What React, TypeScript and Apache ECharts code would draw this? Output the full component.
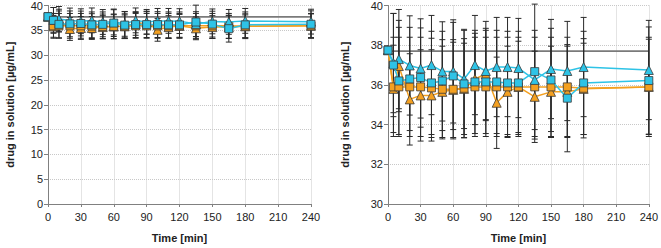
import React, { useEffect, useRef } from "react";
import * as echarts from "echarts";

const timePoints = [0, 5, 10, 20, 30, 40, 50, 60, 70, 80, 90, 100, 110, 120, 135, 150, 165, 180, 240];
const blueSquare = [37.75, 37.0, 36.2, 36.3, 36.37, 36.1, 36.2, 36.45, 36.05, 36.15, 36.15, 36.15, 36.1, 36.1, 36.67, 36.25, 35.33, 36.1, 36.22];
const blueTriangle = [37.75, 37.1, 37.3, 36.98, 36.83, 37.0, 36.68, 36.68, 36.3, 37.0, 36.7, 36.9, 36.9, 36.85, 36.25, 36.8, 36.7, 36.9, 36.75];
const orangeSquare = [37.75, 35.9, 35.9, 35.9, 35.9, 35.85, 35.78, 35.78, 35.83, 35.9, 35.9, 35.9, 35.9, 35.9, 35.9, 35.9, 35.9, 35.83, 35.9];
const orangeTriangle = [37.75, 35.8, 36.95, 35.27, 35.47, 35.47, 35.65, 35.75, 35.8, 36.3, 36.55, 35.1, 35.65, 35.9, 35.4, 35.65, 35.65, 35.8, 35.9];
const blueSquareSD = [0, 2.6, 2.7, 2.6, 2.5, 2.6, 2.5, 2.7, 2.7, 2.6, 2.6, 2.6, 2.6, 2.6, 3.4, 2.6, 2.7, 2.6, 2.7];
const blueTriangleSD = [0, 2.5, 2.5, 2.5, 2.5, 2.5, 2.5, 2.6, 2.5, 2.5, 2.5, 2.5, 2.5, 2.5, 2.5, 2.5, 2.5, 2.5, 2.5];
const orangeSquareSD = [0, 2.5, 2.5, 2.5, 2.5, 2.5, 2.5, 2.5, 2.5, 2.5, 2.5, 2.5, 2.5, 2.5, 2.5, 2.5, 2.5, 2.5, 2.5];
const orangeTriangleSD = [0, 2.2, 2.3, 2.3, 2.3, 2.3, 2.3, 2.4, 2.3, 2.3, 2.3, 2.3, 2.3, 2.3, 2.3, 2.3, 2.3, 2.3, 2.4];
const referenceLevel = 37.7;
const xTicks = { min: 0, max: 240, interval: 30 };
const leftY = { min: 0, max: 40, interval: 5 };
const rightY = { min: 30, max: 40, interval: 2 };

const CYAN = "#2EC3E6";
const ORANGE = "#F4A020";
const EDGE = "#3a3a3a";
const FONT = "Liberation Sans, Arial, sans-serif";

type S = { name: string; values: number[]; sd: number[]; color: string; symbol: string };
const seriesDefs: S[] = [
  { name: "orangeTriangle", values: orangeTriangle, sd: orangeTriangleSD, color: ORANGE, symbol: "triangle" },
  { name: "orangeSquare", values: orangeSquare, sd: orangeSquareSD, color: ORANGE, symbol: "rect" },
  { name: "blueTriangle", values: blueTriangle, sd: blueTriangleSD, color: CYAN, symbol: "triangle" },
  { name: "blueSquare", values: blueSquare, sd: blueSquareSD, color: CYAN, symbol: "rect" },
];

function buildSeries(idx: number) {
  const out: any[] = [];
  out.push({
    type: "line",
    xAxisIndex: idx,
    yAxisIndex: idx,
    data: [[xTicks.min, referenceLevel], [xTicks.max, referenceLevel]],
    symbol: "none",
    lineStyle: { color: "#7a7a7a", width: 1.6 },
    silent: true,
    z: 1,
  });
  seriesDefs.forEach((s) => {
    out.push({
      type: "custom",
      xAxisIndex: idx,
      yAxisIndex: idx,
      data: timePoints.map((t, i) => [t, s.values[i] - s.sd[i], s.values[i] + s.sd[i]]),
      renderItem: (params: any, api: any) => {
        const x = api.value(0);
        const lo = api.coord([x, api.value(1)]);
        const hi = api.coord([x, api.value(2)]);
        if (Math.abs(hi[1] - lo[1]) < 0.5) return { type: "group", children: [] };
        const w = 3;
        const st = { stroke: "#2a2a2a", lineWidth: 1 };
        return {
          type: "group",
          children: [
            { type: "line", shape: { x1: lo[0], y1: lo[1], x2: hi[0], y2: hi[1] }, style: st },
            { type: "line", shape: { x1: lo[0] - w, y1: lo[1], x2: lo[0] + w, y2: lo[1] }, style: st },
            { type: "line", shape: { x1: hi[0] - w, y1: hi[1], x2: hi[0] + w, y2: hi[1] }, style: st },
          ],
        };
      },
      silent: true,
      z: 2,
    });
  });
  seriesDefs.forEach((s, k) => {
    out.push({
      type: "line",
      name: s.name,
      xAxisIndex: idx,
      yAxisIndex: idx,
      data: timePoints.map((t, i) => [t, s.values[i]]),
      symbol: s.symbol,
      symbolSize: s.symbol === "rect" ? 8 : 9,
      showAllSymbol: true,
      lineStyle: { color: s.color, width: 1.5 },
      itemStyle: { color: s.color, borderColor: EDGE, borderWidth: 0.8 },
      z: 3 + k,
    });
  });
  return out;
}

function xAxis(idx: number) {
  return {
    type: "value",
    gridIndex: idx,
    ...xTicks,
    name: "Time [min]",
    nameLocation: "middle",
    nameGap: 28,
    nameTextStyle: { fontFamily: FONT, fontSize: 11, fontWeight: "bold", color: "#222" },
    axisLine: { lineStyle: { color: "#808080" } },
    axisTick: { show: true, length: 3, lineStyle: { color: "#808080" } },
    axisLabel: { fontFamily: FONT, fontSize: 11, color: "#222", margin: 7 },
    splitLine: { show: true, lineStyle: { color: "#c8c8c8", type: "dotted" } },
  };
}

function yAxis(idx: number, range: any, gap: number) {
  return {
    type: "value",
    gridIndex: idx,
    ...range,
    name: "drug in solution [µg/mL]",
    nameLocation: "middle",
    nameGap: gap,
    nameTextStyle: { fontFamily: FONT, fontSize: 11, fontWeight: "bold", color: "#222" },
    axisLine: { show: true, lineStyle: { color: "#808080" } },
    axisTick: { show: true, length: 4, lineStyle: { color: "#808080" } },
    axisLabel: { fontFamily: FONT, fontSize: 11, color: "#222", margin: 5 },
    splitLine: { show: true, lineStyle: { color: "#c8c8c8", type: "dotted" } },
  };
}

export default function App() {
  const ref = useRef<HTMLDivElement>(null);
  useEffect(() => {
    document.body.style.margin = "0";
    if (!ref.current) return;
    const chart = echarts.init(ref.current, undefined, { renderer: "svg" });
    chart.setOption({
      animation: false,
      backgroundColor: "#ffffff",
      grid: [
        { left: 48, top: 5, width: 263, height: 200 },
        { left: 388, top: 5, width: 264, height: 200 },
      ],
      xAxis: [xAxis(0), xAxis(1)],
      yAxis: [yAxis(0, leftY, 33), yAxis(1, rightY, 38)],
      series: [...buildSeries(0), ...buildSeries(1)],
    });
    return () => chart.dispose();
  }, []);
  return <div ref={ref} style={{ width: 661, height: 248 }} />;
}
